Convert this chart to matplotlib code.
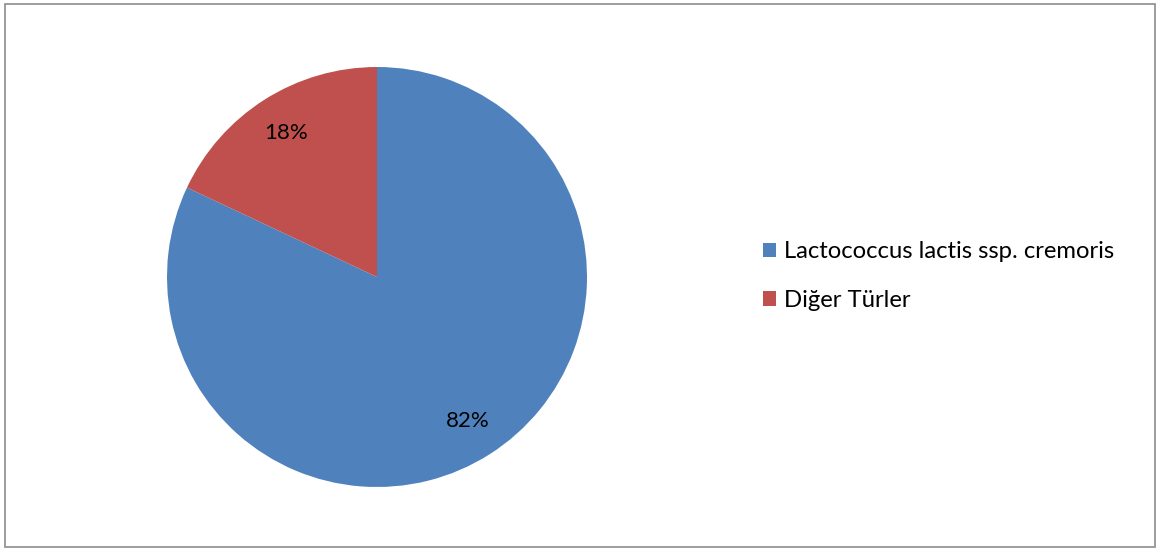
import matplotlib
matplotlib.use('Agg')
import matplotlib.pyplot as plt
from matplotlib.patches import Rectangle

plt.rcParams['font.family'] = ['Lato', 'DejaVu Sans']

# Data
labels = ['Lactococcus lactis ssp. cremoris', 'Diğer Türler']
values = [82, 18]
colors = ['#4F81BD', '#C0504D']

W, H = 1161, 549
fig = plt.figure(figsize=(W / 100, H / 100), dpi=100)

# chart border
fig.patches.append(Rectangle((5 / W, 2 / H), 1150 / W, 543 / H, transform=fig.transFigure,
                             fill=False, edgecolor='#8c8c8c', linewidth=1.2))

# pie axes: centre (377, 277), radius 210 px
cx, cy, r = 377, 277, 210
ax = fig.add_axes([(cx - r) / W, (H - cy - r) / H, 2 * r / W, 2 * r / H])
wedges, _, autotexts = ax.pie(values, colors=colors, startangle=90, counterclock=False,
                              autopct='%1.0f%%', pctdistance=0.81,
                              textprops=dict(fontsize=16, color='black'))
ax.set_xlim(-1, 1)
ax.set_ylim(-1, 1)
ax.set_aspect('equal')

leg = fig.legend(wedges, labels, loc='center left', bbox_to_anchor=(763 / W, 1 - 276 / H),
                 frameon=False, fontsize=17.2, handlelength=0.56, handleheight=0.56,
                 handletextpad=0.3, labelspacing=1.15, borderpad=0, borderaxespad=0)
for h in leg.legend_handles:
    h.set_edgecolor('none')

fig.savefig('out.png', dpi=100)
